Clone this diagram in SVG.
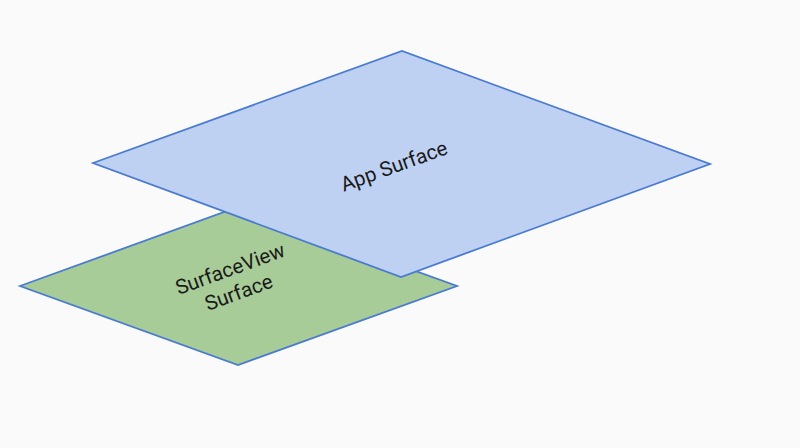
<svg xmlns="http://www.w3.org/2000/svg" width="800" height="448" viewBox="0 0 800 448">
<style>
.bg{fill:#fafafa}
.plane{stroke:#4a7bd0;stroke-width:1.8;stroke-linejoin:miter}
.lbl{font-family:Roboto,"Liberation Sans",sans-serif;font-size:20.5px;fill:#1a1a1a;text-anchor:middle}
</style>
<rect class="bg" x="0" y="0" width="800" height="448"/>
<g id="surfaceview">
<polygon class="plane" fill="#a8cc98" points="20,286 238,207 457,286 238,365"/>
<text class="lbl" transform="rotate(-20 235 282)"><tspan x="235" y="275">SurfaceView</tspan><tspan x="235" y="300">Surface</tspan></text>
</g>
<g id="app">
<polygon class="plane" fill="#bfd1f3" points="93,163 402,51 710,164 401,277"/>
<text class="lbl" transform="rotate(-20 394 166)" x="394" y="173">App Surface</text>
</g>
<g id="connectors"></g>
</svg>
